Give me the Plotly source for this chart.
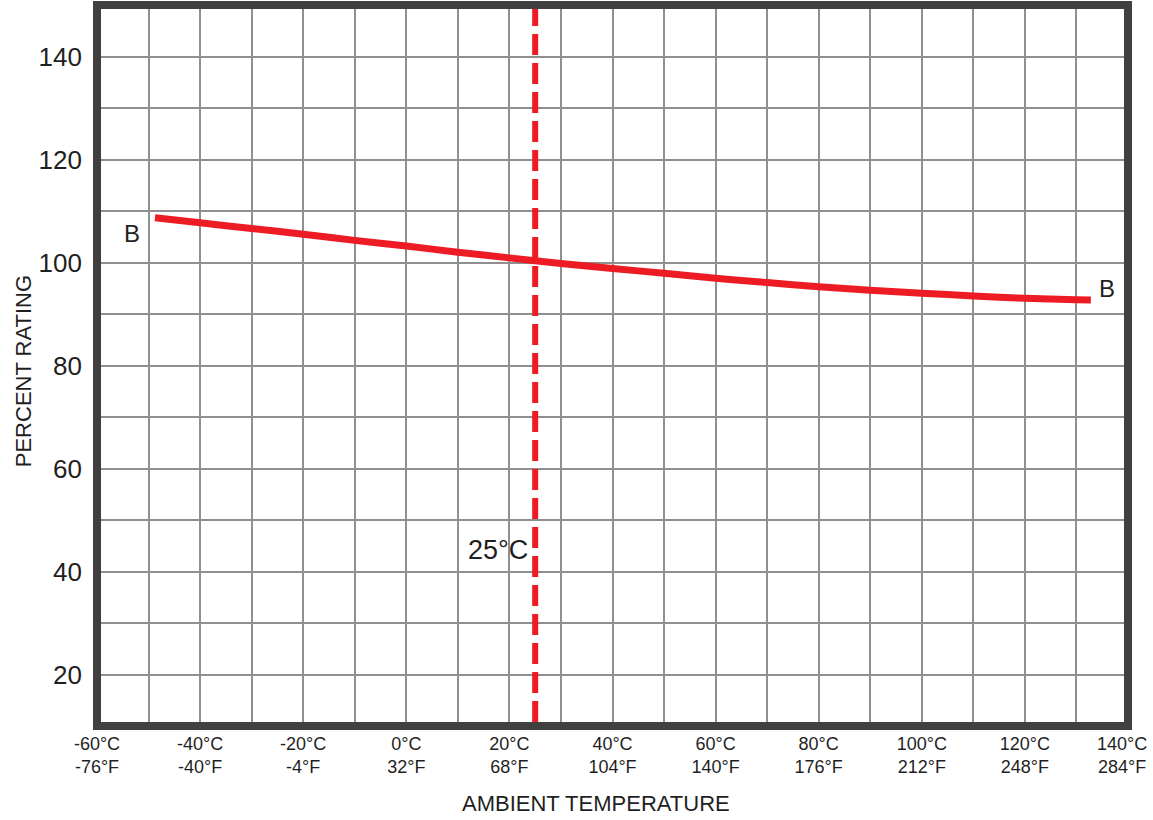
import plotly.graph_objects as go

# ---- data ----
temp_c = [-48.75, -40, -30, -20, -10, 0, 10, 20, 30, 40, 50, 60, 70, 80, 90, 100, 110, 120, 130, 132.8]
rating = [108.7, 107.7, 106.6, 105.5, 104.3, 103.2, 102.0, 100.9, 99.8, 98.85, 97.9, 96.95, 96.1, 95.3, 94.6, 94.05, 93.5, 93.05, 92.75, 92.7]

x_tick_vals = [-60, -40, -20, 0, 20, 40, 60, 80, 100, 120, 140]
x_tick_c = ["-60°C", "-40°C", "-20°C", "0°C", "20°C", "40°C", "60°C", "80°C", "100°C", "120°C", "140°C"]
x_tick_f = ["-76°F", "-40°F", "-4°F", "32°F", "68°F", "104°F", "140°F", "176°F", "212°F", "248°F", "284°F"]
y_tick_vals = [20, 40, 60, 80, 100, 120, 140]

ref_temp = 25
x_range = [-60, 140]
y_range = [10, 150]

RED = "#ED1C24"
GRID = "#8f8f8f"
FRAME = "#404040"
TXT = "#1f1f1f"
FONT = "Liberation Sans, Arial, sans-serif"

# grid every 10 units; labels only on the listed ticks.
# The label at the right edge is drawn as an annotation nudged inside the page.
xg = list(range(x_range[0], x_range[1] + 1, 10))
xt = []
for v in xg:
    if v in x_tick_vals and v != x_range[1]:
        i = x_tick_vals.index(v)
        xt.append(x_tick_c[i] + "<br>" + x_tick_f[i])
    else:
        xt.append("")
last_i = x_tick_vals.index(x_range[1])
yg = list(range(y_range[0], y_range[1] + 1, 10))
yt = [str(v) if v in y_tick_vals else "" for v in yg]

fig = go.Figure()
fig.add_trace(go.Scatter(
    x=temp_c, y=rating, mode="lines",
    line=dict(color=RED, width=7, shape="spline", smoothing=0.6),
    hoverinfo="skip", showlegend=False,
))

fig.update_layout(
    width=1153, height=820,
    margin=dict(l=97, r=25, t=5, b=94, autoexpand=False),
    paper_bgcolor="white", plot_bgcolor="white",
    font=dict(family=FONT, color=TXT),
    xaxis=dict(
        range=x_range, tickmode="array", tickvals=xg, ticktext=xt, automargin=False,
        showgrid=True, gridcolor=GRID, gridwidth=1.6, zeroline=False,
        showline=False, ticks="", ticklabelstandoff=5,
        tickfont=dict(size=18, family=FONT, color=TXT),
    ),
    yaxis=dict(
        range=y_range, tickmode="array", tickvals=yg, ticktext=yt, automargin=False,
        showgrid=True, gridcolor=GRID, gridwidth=1.6, zeroline=False,
        showline=False, ticks="", ticklabelstandoff=14,
        tickfont=dict(size=26, family=FONT, color=TXT),
    ),
    shapes=[
        dict(type="line", xref="x", yref="y", x0=ref_temp, x1=ref_temp, y0=y_range[1], y1=y_range[0],
             line=dict(color=RED, width=6, dash="21px,8px"), layer="above"),
        dict(type="rect", xref="paper", yref="paper", x0=0, x1=1, y0=0, y1=1,
             line=dict(color=FRAME, width=8), layer="above"),
    ],
    annotations=[
        dict(text=x_tick_c[last_i] + "<br>" + x_tick_f[last_i], x=x_range[1] - 1.15, y=-0.0409,
             xref="x", yref="paper", showarrow=False, xanchor="center", yanchor="middle",
             font=dict(size=18, family=FONT, color=TXT)),
        dict(text="B", x=-53.2, y=105.7, xref="x", yref="y", showarrow=False,
             xanchor="center", yanchor="middle", font=dict(size=24, family=FONT, color=TXT)),
        dict(text="B", x=135.9, y=94.95, xref="x", yref="y", showarrow=False,
             xanchor="center", yanchor="middle", font=dict(size=24, family=FONT, color=TXT)),
        dict(text="25°C", x=17.8, y=44.2, xref="x", yref="y", showarrow=False,
             xanchor="center", yanchor="middle", font=dict(size=27, family=FONT, color=TXT)),
        dict(text="AMBIENT TEMPERATURE", x=0.484, y=-0.1075, xref="paper", yref="paper",
             showarrow=False, xanchor="center", yanchor="middle",
             font=dict(size=22, family=FONT, color=TXT)),
        dict(text="PERCENT RATING", x=-0.0718, y=0.492, xref="paper", yref="paper",
             showarrow=False, xanchor="center", yanchor="middle", textangle=-90,
             font=dict(size=22, family=FONT, color=TXT)),
    ],
)

fig.write_html(
    "out.html",
    config={"displayModeBar": False},
    post_script=(
        "document.documentElement.style.margin='0';"
        "document.documentElement.style.overflow='hidden';"
        "document.body.style.margin='0';document.body.style.overflow='hidden';"
    ),
)
